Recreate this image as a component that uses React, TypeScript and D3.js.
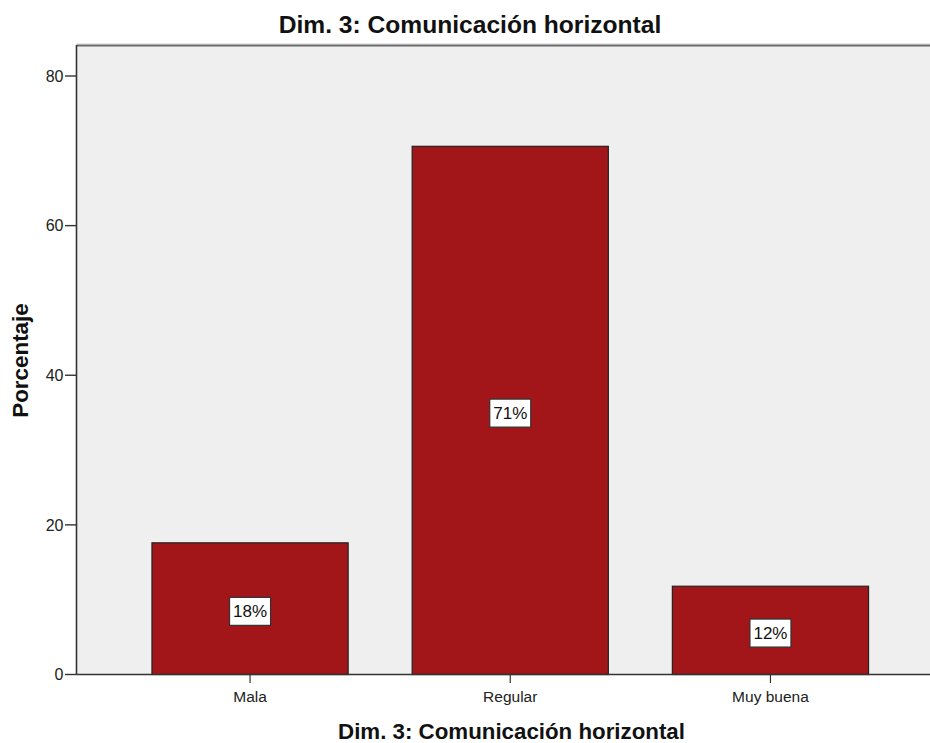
import React from "react";
import * as d3 from "d3";

const categories: string[] = ["Mala", "Regular", "Muy buena"];
const values: number[] = [17.6, 70.6, 11.8];
const valueLabels: string[] = ["18%", "71%", "12%"];
const yTicks: number[] = [0, 20, 40, 60, 80];
const chartTitle = "Dim. 3: Comunicación horizontal";
const xTitle = "Dim. 3: Comunicación horizontal";
const yTitle = "Porcentaje";

const W = 930;
const H = 743;
const left = 76.5;
const top = 45;
const bottom = 674.5;
const right = 930;

export default function App() {
  const x = d3
    .scaleBand<string>()
    .domain(categories)
    .range([left, 944])
    .paddingInner(0.246)
    .paddingOuter(0.29);
  const y = d3.scaleLinear().domain([0, 80]).range([bottom, 76]);
  const font = "Arial, 'Liberation Sans', sans-serif";

  return (
    <svg
      width={W}
      height={H}
      style={{ position: "absolute", left: 0, top: 0, background: "#fff" }}
      fontFamily={font}
    >
      <rect x={left} y={top} width={right - left} height={bottom - top} fill="#EFEFEF" />
      <line x1={left} x2={right} y1={44.2} y2={44.2} stroke="#b0b0b0" strokeWidth={1} />
      <line x1={left} x2={right} y1={45.6} y2={45.6} stroke="#6a6a6a" strokeWidth={1.6} />

      {categories.map((c, i) => {
        const bx = x(c)!;
        const bw = x.bandwidth();
        const by = y(values[i]);
        const bh = y(0) - by;
        const cx = bx + bw / 2;
        const cy = by + bh / 2 + 2.7;
        return (
          <g key={c}>
            <rect x={bx} y={by} width={bw} height={bh} fill="#A2161A" stroke="#222" strokeWidth={1.2} />
            <rect x={cx - 20.5} y={cy - 14} width={41} height={28} fill="#fff" stroke="#333" strokeWidth={1.2} />
            <text x={cx} y={cy + 6} textAnchor="middle" fontSize={17} fill="#111">
              {valueLabels[i]}
            </text>
            <line x1={cx} x2={cx} y1={bottom} y2={683} stroke="#333" strokeWidth={1.2} />
            <text x={cx} y={702} textAnchor="middle" fontSize={15.5} fill="#222">
              {c}
            </text>
          </g>
        );
      })}

      <line x1={left} x2={left} y1={top} y2={bottom} stroke="#333" strokeWidth={1.6} />
      <line x1={left} x2={right} y1={bottom} y2={bottom} stroke="#333" strokeWidth={1.6} />

      {yTicks.map((t) => (
        <g key={t}>
          <line x1={65} x2={left} y1={y(t)} y2={y(t)} stroke="#333" strokeWidth={1.4} />
          <text x={63.5} y={y(t) + 5.8} textAnchor="end" fontSize={16} fill="#222">
            {t}
          </text>
        </g>
      ))}

      <text x={470} y={33} textAnchor="middle" fontSize={24.6} fontWeight="bold" fill="#111">
        {chartTitle}
      </text>
      <text x={511.5} y={738.5} textAnchor="middle" fontSize={22.3} fontWeight="bold" fill="#111">
        {xTitle}
      </text>
      <text
        transform={`translate(28,360.5) rotate(-90)`}
        textAnchor="middle"
        fontSize={22.4}
        fontWeight="bold"
        fill="#111"
      >
        {yTitle}
      </text>
    </svg>
  );
}
